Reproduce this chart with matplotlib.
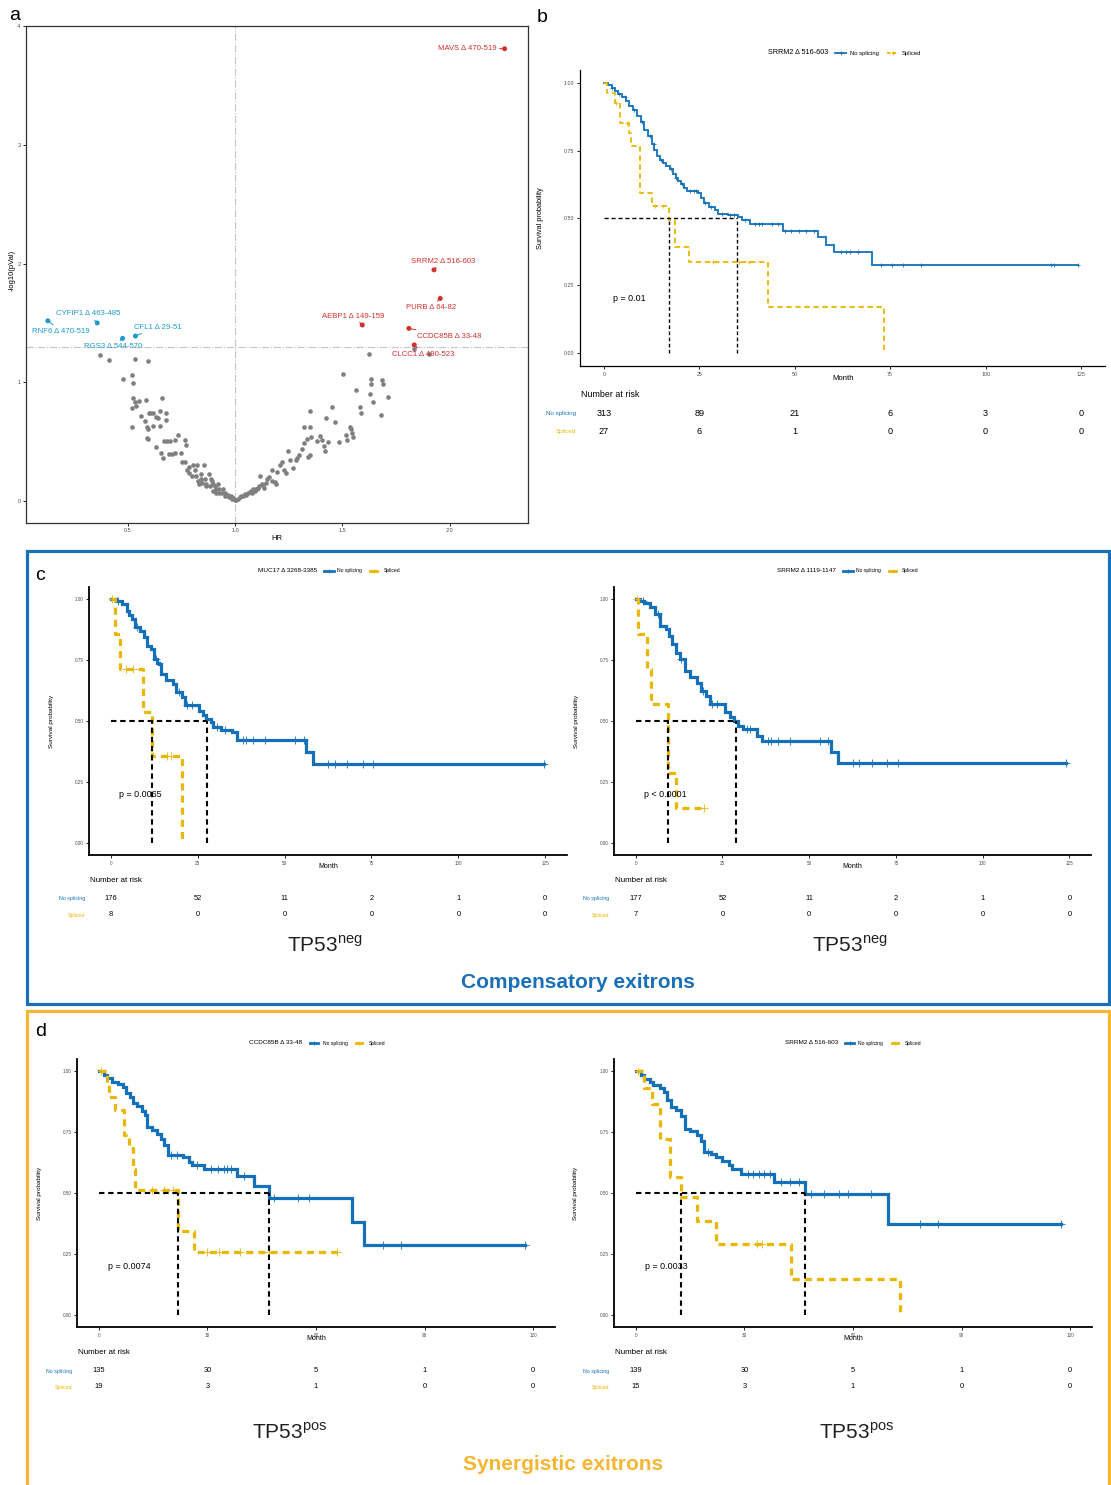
"""
Exitron survival figure.

  a  volcano: HR vs -log10(p) per exitron, hits labelled
  b  KM for SRRM2 exitron, whole cohort
  c  KM in TP53neg (compensatory exitrons)
  d  KM in TP53pos (synergistic exitrons)

Output: out.png
"""
import numpy as np
import matplotlib
matplotlib.use("Agg")
import matplotlib.pyplot as plt
import matplotlib.transforms as mtransforms
from matplotlib.lines import Line2D
from matplotlib.patches import Rectangle

plt.rcParams["font.family"] = ["Liberation Sans", "DejaVu Sans"]
plt.rcParams["mathtext.fontset"] = "custom"
plt.rcParams["mathtext.rm"] = "Liberation Sans"

W, H = 1111, 1485
BLUE = "#1470b8"
GOLD = "#e9b600"
RED = "#d3302f"
CYAN = "#1c9ad0"
BOX_BLUE = "#1a6fb6"
BOX_GOLD = "#f6b533"

# ---------------- panel a: volcano ----------------
grey_hr = [0.370, 0.411, 0.533, 0.595, 0.478, 0.522, 0.525, 0.525, 0.535, 0.554, 0.585, 0.521,
           0.538, 0.661, 0.563, 0.579, 0.597, 0.606, 0.620, 0.630, 0.639, 0.652, 0.676, 0.679,
           0.522, 0.589, 0.595, 0.617, 0.652, 0.589, 0.595, 0.630, 0.655, 0.665, 0.671, 0.685,
           0.695, 0.718, 0.736, 0.766, 0.772, 0.690, 0.706, 0.720, 0.748, 0.755, 0.766, 0.774,
           0.785, 0.802, 0.785, 0.801, 0.813, 0.823, 0.856, 0.816, 0.826, 0.840, 0.843, 0.859,
           0.880, 0.867, 0.888, 0.892, 0.848, 0.896, 0.907, 0.919, 0.913, 0.927, 0.937, 0.943,
           0.951, 0.965, 0.979, 0.991, 0.998, 0.881, 0.866, 0.832, 0.911, 0.896, 0.951, 0.927,
           1.013, 1.024, 1.038, 1.051, 1.062, 1.073, 1.085, 1.098, 1.111, 1.104, 1.117, 1.125,
           1.136, 1.149, 1.160, 1.172, 1.184, 1.190, 1.171, 1.195, 1.209, 1.217, 1.228, 1.239,
           1.248, 1.256, 1.271, 1.283, 1.291, 1.299, 1.310, 1.320, 1.320, 1.334, 1.342, 1.351,
           1.351, 1.351, 1.354, 1.380, 1.394, 1.407, 1.415, 1.421, 1.426, 1.435, 1.454, 1.465,
           1.486, 1.505, 1.516, 1.522, 1.536, 1.540, 1.544, 1.549, 1.565, 1.584, 1.589, 1.623,
           1.631, 1.634, 1.634, 1.644, 1.679, 1.687, 1.691, 1.715, 1.835, 1.905,
           0.958, 0.972, 0.985, 1.005, 1.030, 1.045, 1.068, 1.080, 1.092, 1.105, 1.130, 1.142]
grey_logp = [1.232, 1.186, 1.200, 1.183, 1.032, 1.064, 0.997, 0.870, 0.832, 0.841, 0.855, 0.788,
             0.803, 0.867, 0.716, 0.675, 0.745, 0.739, 0.745, 0.710, 0.701, 0.759, 0.742, 0.684,
             0.623, 0.629, 0.609, 0.635, 0.632, 0.536, 0.522, 0.458, 0.409, 0.362, 0.507, 0.504,
             0.507, 0.513, 0.559, 0.513, 0.475, 0.397, 0.397, 0.406, 0.409, 0.333, 0.333, 0.264,
             0.290, 0.304, 0.235, 0.217, 0.261, 0.304, 0.304, 0.217, 0.171, 0.188, 0.229, 0.188,
             0.232, 0.125, 0.191, 0.174, 0.151, 0.145, 0.130, 0.145, 0.101, 0.101, 0.072, 0.101,
             0.072, 0.049, 0.043, 0.029, 0.014, 0.130, 0.145, 0.145, 0.072, 0.087, 0.043, 0.067,
             0.020, 0.035, 0.043, 0.055, 0.072, 0.087, 0.101, 0.107, 0.130, 0.101, 0.217, 0.145,
             0.116, 0.188, 0.203, 0.174, 0.159, 0.145, 0.267, 0.246, 0.304, 0.333, 0.261, 0.238,
             0.420, 0.348, 0.281, 0.348, 0.362, 0.391, 0.441, 0.623, 0.493, 0.528, 0.377, 0.386,
             0.623, 0.762, 0.542, 0.507, 0.551, 0.513, 0.464, 0.420, 0.701, 0.499, 0.791, 0.670,
             0.499, 1.075, 0.559, 0.513, 0.629, 0.612, 0.571, 0.542, 0.939, 0.794, 0.745, 1.241,
             0.904, 0.986, 1.029, 0.835, 0.725, 1.017, 0.986, 0.875, 1.284, 1.243,
             0.050, 0.035, 0.020, 0.010, 0.045, 0.060, 0.080, 0.070, 0.090, 0.115, 0.140, 0.155]

hit_labels = ["MAVS \u0394 470-519", "SRRM2 \u0394 516-603", "PURB \u0394 64-82",
              "AEBP1 \u0394 149-159", "CCDC85B \u0394 33-48", "CLCC1 \u0394 490-523",
              "CYFIP1 \u0394 463-485", "RNF6 \u0394 470-519", "CFL1 \u0394 29-51",
              "RGS3 \u0394 544-570"]
hit_hr = [2.256, 1.927, 1.956, 1.593, 1.810, 1.835, 0.358, 0.128, 0.536, 0.476]
hit_logp = [3.809, 1.948, 1.707, 1.484, 1.455, 1.316, 1.501, 1.519, 1.391, 1.371]
hit_worse = [True, True, True, True, True, True, False, False, False, False]

# ---------------- KM data (time in months, survival after each step) ----------------
# b: SRRM2 exitron, all patients
b_ns_t = [0, 1.0, 2.0, 2.8, 3.8, 4.7, 5.7, 6.7, 7.6, 8.6, 9.6, 10.6, 11.5, 12.5, 13.2, 13.9,
          14.6, 15.4, 16.3, 17.3, 18.0, 18.8, 19.5, 20.2, 21.0, 21.7, 24.6, 25.5, 26.2, 27.5,
          29.0, 30.0, 32.5, 35.0, 36.3, 38.4, 46.9, 56.1, 58.3, 60.4, 70.1]
b_ns_s = [1.0, 0.993, 0.982, 0.973, 0.962, 0.950, 0.935, 0.918, 0.900, 0.880, 0.856, 0.828,
          0.806, 0.775, 0.752, 0.730, 0.715, 0.703, 0.694, 0.682, 0.665, 0.650, 0.638, 0.625,
          0.612, 0.602, 0.593, 0.575, 0.556, 0.542, 0.528, 0.516, 0.510, 0.502, 0.492, 0.476,
          0.453, 0.428, 0.400, 0.373, 0.325]
b_ns_end = 124.3
b_ns_cens = [2, 4, 5.5, 8, 10, 12, 13, 15, 17.5, 19, 20.5, 22.5, 23.5, 24, 26.5, 28, 31, 33,
             34, 37, 39.5, 40.5, 41.5, 44, 45.5, 47.5, 49, 51, 53, 55, 62, 63.5, 64.5, 66.5,
             72.5, 75.5, 78.3, 83, 117, 118, 124.3]
b_sp_t = [0, 0.8, 2.8, 4.3, 6.5, 7.2, 9.5, 12.6, 17.0, 18.6, 22.4, 43.0, 73.3]
b_sp_s = [1.0, 0.963, 0.926, 0.852, 0.815, 0.766, 0.593, 0.546, 0.494, 0.393, 0.336, 0.168, 0.0]
b_sp_end = 73.3
b_sp_cens = [3.2, 6.0, 13.5, 15.5, 28.5, 35.5, 38.0]
b_medians = [17.0, 34.8]
b_risk_t = [0, 25, 50, 75, 100, 125]
b_risk_ns = [313, 89, 21, 6, 3, 0]
b_risk_sp = [27, 6, 1, 0, 0, 0]

# c-left: MUC17 exitron, TP53neg
cl_ns_t = [0, 1.6, 3.1, 4.6, 5.3, 6.0, 7.0, 8.5, 9.5, 10.5, 11.5, 12.5, 13.3, 14.0, 14.5, 16.0,
           17.9, 18.9, 20.4, 21.4, 25.4, 26.4, 27.4, 28.8, 29.3, 31.8, 34.8, 36.3, 56.1, 58.3]
cl_ns_s = [1.0, 0.993, 0.980, 0.953, 0.935, 0.918, 0.884, 0.870, 0.843, 0.809, 0.795, 0.754,
           0.740, 0.734, 0.693, 0.667, 0.653, 0.620, 0.597, 0.567, 0.540, 0.525, 0.510, 0.497,
           0.475, 0.465, 0.456, 0.420, 0.374, 0.325]
cl_ns_end = 124.5
cl_ns_cens = [2, 7.5, 13, 19.5, 22, 23.5, 30.5, 33, 38, 39, 41, 44.5, 53, 55.5, 62.5, 64.5,
              68, 72.5, 75.5, 124.5]
cl_sp_t = [0, 1.1, 2.6, 9.2, 11.8, 20.4]
cl_sp_s = [1.0, 0.857, 0.714, 0.536, 0.357, 0.0]
cl_sp_end = 20.4
cl_sp_cens = [0.5, 4.5, 6.5, 16.2, 17.3]
cl_medians = [11.8, 27.7]
c_risk_t = [0, 25, 50, 75, 100, 125]
cl_risk_ns = [176, 52, 11, 2, 1, 0]
cl_risk_sp = [8, 0, 0, 0, 0, 0]

# c-right: SRRM2 1119-1147 exitron, TP53neg
cr_ns_t = [0, 1.2, 2.5, 4.0, 5.6, 7.1, 8.6, 9.6, 10.6, 11.6, 12.7, 14.2, 15.7, 17.7, 18.7,
           20.2, 21.3, 25.8, 27.3, 28.3, 29.4, 30.9, 34.9, 36.4, 56.2, 58.2]
cr_ns_s = [1.0, 0.993, 0.986, 0.966, 0.939, 0.891, 0.877, 0.850, 0.816, 0.781, 0.754, 0.706,
           0.679, 0.658, 0.624, 0.604, 0.570, 0.536, 0.515, 0.501, 0.481, 0.467, 0.440, 0.419,
           0.372, 0.326]
cr_ns_end = 124.0
cr_ns_cens = [2, 6.5, 13, 19.5, 22, 23.5, 32, 33, 38, 39, 41, 44.5, 53, 55.5, 62.5, 64.5,
              68, 72.5, 75.5, 124.0]
cr_sp_t = [0, 0.7, 3.3, 4.3, 9.3, 11.5]
cr_sp_s = [1.0, 0.857, 0.714, 0.571, 0.286, 0.143]
cr_sp_end = 19.7
cr_sp_cens = [0.4, 19.7]
cr_medians = [9.3, 29.0]
cr_risk_ns = [177, 52, 11, 2, 1, 0]
cr_risk_sp = [7, 0, 0, 0, 0, 0]

# d-left: CCDC85B exitron, TP53pos
dl_ns_t = [0, 1.4, 2.4, 3.8, 5.2, 6.7, 7.6, 8.6, 9.5, 10.5, 11.9, 12.9, 13.3, 14.8, 16.2,
           17.1, 18.1, 19.0, 23.3, 24.8, 25.7, 29.0, 38.1, 42.9, 47.0, 70.0, 73.3]
dl_ns_s = [1.0, 0.986, 0.973, 0.955, 0.948, 0.934, 0.911, 0.893, 0.870, 0.857, 0.838, 0.820,
           0.770, 0.757, 0.743, 0.722, 0.695, 0.654, 0.647, 0.627, 0.616, 0.600, 0.568, 0.528,
           0.479, 0.383, 0.287]
dl_ns_end = 117.6
dl_ns_cens = [20, 21.5, 27, 31, 33, 34.5, 35.5, 36.5, 40, 48.5, 55, 58, 78.5, 83.5, 117.6]
dl_sp_t = [0, 2.4, 2.9, 4.5, 7.0, 8.3, 9.4, 9.9, 22.0, 26.4]
dl_sp_s = [1.0, 0.947, 0.895, 0.842, 0.737, 0.685, 0.600, 0.513, 0.342, 0.257]
dl_sp_end = 65.7
dl_sp_cens = [0.6, 14.8, 18.0, 20.4, 30.0, 33.3, 39.0, 47.0, 65.7]
dl_medians = [22.0, 47.0]
d_risk_t = [0, 30, 60, 90, 120]
dl_risk_ns = [135, 30, 5, 1, 0]
dl_risk_sp = [19, 3, 1, 0, 0]

# d-right: SRRM2 516-603 exitron, TP53pos
dr_ns_t = [0, 1.5, 2.4, 3.9, 4.8, 6.8, 7.8, 8.7, 9.7, 11.2, 12.6, 13.6, 15.0, 17.0, 17.9,
           18.9, 20.9, 22.3, 23.8, 25.7, 26.7, 29.1, 38.3, 46.8, 69.8]
dr_ns_s = [1.0, 0.986, 0.969, 0.955, 0.945, 0.932, 0.914, 0.880, 0.852, 0.839, 0.818, 0.763,
           0.753, 0.740, 0.715, 0.668, 0.661, 0.647, 0.633, 0.613, 0.599, 0.579, 0.546, 0.497,
           0.374]
dr_ns_end = 117.4
dr_ns_cens = [20, 31, 32.5, 34, 35.5, 37, 40, 42.5, 45, 48.5, 52, 56, 58.5, 65, 78.5, 83.5,
              117.4]
dr_sp_t = [0, 2.4, 4.6, 6.7, 9.4, 12.4, 17.0, 22.3, 43.0, 73.0]
dr_sp_s = [1.0, 0.933, 0.867, 0.722, 0.565, 0.483, 0.386, 0.289, 0.145, 0.0]
dr_sp_end = 73.0
dr_sp_cens = [0.5, 33.5, 35.0]
dr_medians = [12.4, 46.8]
dr_risk_ns = [139, 30, 5, 1, 0]
dr_risk_sp = [15, 3, 1, 0, 0]


fig = plt.figure(figsize=(W / 100, H / 100), dpi=100)


def fy(py):
    return 1 - py / H


def add_ax(x0, y0, x1, y1):
    return fig.add_axes([x0 / W, 1 - y1 / H, (x1 - x0) / W, (y1 - y0) / H])


# ===== a: volcano =====
ax = add_ax(26, 26, 528, 522.7)
ax.set_xlim(0.026, 2.365)
ax.set_ylim(-0.18, 4.0)
ax.axhline(-np.log10(0.05), color="#c4c4c4", lw=0.8, ls="-.", zorder=0)
ax.axvline(1.0, color="#c4c4c4", lw=0.8, ls="-.", zorder=0)
ax.scatter(grey_hr, grey_logp, s=11, color="#7f7f7f", lw=0, zorder=2)
cols = [RED if w else CYAN for w in hit_worse]
ax.scatter(hit_hr, hit_logp, s=13, color=cols, lw=0, zorder=3)
# label centres (repel-style placement)
label_pos = {"MAVS": (2.082, 3.81), "SRRM2": (1.968, 2.02), "PURB": (1.913, 1.632),
             "AEBP1": (1.551, 1.559), "CCDC85B": (1.997, 1.391), "CLCC1": (1.878, 1.238),
             "CYFIP1": (0.316, 1.577), "RNF6": (0.188, 1.432), "CFL1": (0.638, 1.464),
             "RGS3": (0.434, 1.299)}
for lab, x, y, c in zip(hit_labels, hit_hr, hit_logp, cols):
    tx, ty = label_pos[lab.split()[0]]
    ax.annotate(lab, xy=(x, y), xytext=(tx, ty), ha="center", va="center", fontsize=5.6,
                color=c, zorder=4,
                arrowprops=dict(arrowstyle="-", color=c, lw=0.7, shrinkA=0, shrinkB=1.5))
ax.set_xticks([0.5, 1.0, 1.5, 2.0])
ax.set_yticks([0, 1, 2, 3, 4])
ax.tick_params(length=2, width=0.6, labelsize=4, labelcolor="#4d4d4d", pad=2)
for s in ax.spines.values():
    s.set_linewidth(0.9)
    s.set_color("#333333")
fig.text(277 / W, fy(538), "HR", ha="center", va="center", fontsize=5.5)
fig.text(12 / W, fy(270), "-log10(pVal)", ha="center", va="center", rotation=90, fontsize=5.5)


# ===== KM helpers =====
def draw_km(box, xlim, xticks, curves, medians, lw, spine_lw, med_lw, ptext, tick_fs=3.8):
    ax = add_ax(*box)
    for t, s, t_end, cens, col, dash in curves:
        ax.step(list(t) + [t_end], list(s) + [s[-1]], where="post", color=col, lw=lw,
                ls=dash, zorder=3, solid_joinstyle="miter")
        idx = np.searchsorted(t, cens, side="right") - 1
        ax.plot(cens, np.array(s)[idx], "+", color=col, ms=lw * 2.2, mew=0.6, zorder=3)
    ax.plot([0, max(medians)], [0.5, 0.5], color="black", lw=med_lw, ls=(0, (2.6, 1.8)), zorder=4)
    for m in medians:
        ax.plot([m, m], [0, 0.5], color="black", lw=med_lw, ls=(0, (2.6, 1.8)), zorder=4)
    ax.text(2.5, 0.2, ptext, fontsize=6.4, va="center", ha="left", zorder=5)
    ax.set_xlim(*xlim)
    ax.set_ylim(-0.05, 1.05)
    ax.set_xticks(xticks)
    ax.set_yticks([0, 0.25, 0.5, 0.75, 1.0])
    ax.set_yticklabels(["0.00", "0.25", "0.50", "0.75", "1.00"])
    ax.spines[["top", "right"]].set_visible(False)
    for sp in ("left", "bottom"):
        ax.spines[sp].set_linewidth(spine_lw)
    ax.tick_params(length=2, width=0.6, labelsize=tick_fs, labelcolor="#4d4d4d", pad=2)
    return ax


def km_legend(title, y, title_end, keys, lw, fs_t, fs_l):
    fig.text(title_end / W, fy(y), title, ha="right", va="center", fontsize=fs_t)
    for (x0, x1, xl, lab, col, dash) in keys:
        fig.add_artist(Line2D([x0 / W, x1 / W], [fy(y)] * 2, color=col, lw=lw, ls=dash))
        fig.add_artist(Line2D([(x0 + x1) / 2 / W], [fy(y)], color=col, marker="+", ms=3, mew=0.6))
        fig.text(xl / W, fy(y), lab, ha="left", va="center", fontsize=fs_l)


def risk_table(ax, times, ns, sp, y_head, y_ns, y_sp, x_head, x_lab, fs_num, fs_head, fs_lab):
    tr = mtransforms.blended_transform_factory(ax.transData, fig.transFigure)
    fig.text(x_head / W, fy(y_head), "Number at risk", ha="left", va="center", fontsize=fs_head)
    for counts, y, lab, col in ((ns, y_ns, "No splicing", BLUE), (sp, y_sp, "Spliced", GOLD)):
        fig.text(x_lab / W, fy(y), lab, ha="right", va="center", fontsize=fs_lab, color=col)
        for t, n in zip(times, counts):
            ax.text(t, fy(y), str(n), transform=tr, ha="center", va="center", fontsize=fs_num)


# ===== b =====
ax = draw_km((580, 70, 1105, 366), (-6.25, 131.25), b_risk_t,
             [(b_ns_t, b_ns_s, b_ns_end, b_ns_cens, BLUE, "-"),
              (b_sp_t, b_sp_s, b_sp_end, b_sp_cens, GOLD, (0, (3, 2)))],
             b_medians, lw=1.3, spine_lw=0.9, med_lw=1.0, ptext="p = 0.01")
ax.lines[-3].set_linestyle((0, (3, 2)))
km_legend("SRRM2 \u0394 516-603", 53, 828,
          [(835, 846, 850, "No splicing", BLUE, "-"), (887, 898, 902, "Spliced", GOLD, (0, (2, 1)))],
          1.3, 5.2, 4.2)
fig.text(843 / W, fy(379), "Month", ha="center", va="center", fontsize=5.6)
fig.text(540 / W, fy(218), "Survival probability", ha="center", va="center", rotation=90, fontsize=5.3)
risk_table(ax, b_risk_t, b_risk_ns, b_risk_sp, 394, 413, 432, 581, 576, 6.6, 6.4, 4.4)

# ===== c =====
dash_c = (0, (2.2, 1.6))
for (x0, x1, curves, med, ptext, ttl, tend, keys, ylx, num, risk_ns, risk_sp) in (
        (89, 567, [(cl_ns_t, cl_ns_s, cl_ns_end, cl_ns_cens, BLUE, "-"),
                   (cl_sp_t, cl_sp_s, cl_sp_end, cl_sp_cens, GOLD, dash_c)],
         cl_medians, "p = 0.0065", "MUC17 \u0394 3268-3385", 317,
         [(324, 334, 337, "No splicing"), (370, 377, 384, "Spliced")], 52, 85,
         cl_risk_ns, cl_risk_sp),
        (614, 1091, [(cr_ns_t, cr_ns_s, cr_ns_end, cr_ns_cens, BLUE, "-"),
                     (cr_sp_t, cr_sp_s, cr_sp_end, cr_sp_cens, GOLD, dash_c)],
         cr_medians, "p < 0.0001", "SRRM2 \u0394 1119-1147", 836,
         [(843, 853, 856, "No splicing"), (889, 896, 902, "Spliced")], 577, 609,
         cr_risk_ns, cr_risk_sp)):
    ax = draw_km((x0, 587, x1, 855), (-6.25, 131.25), c_risk_t, curves, med,
                 lw=2.3, spine_lw=1.3, med_lw=1.5, ptext=ptext, tick_fs=3.3)
    km_legend(ttl, 571, tend,
              [(keys[0][0], keys[0][1], keys[0][2], keys[0][3], BLUE, "-"),
               (keys[1][0], keys[1][1], keys[1][2], keys[1][3], GOLD, "-")],
              2.0, 4.6, 3.6)
    xc = (x0 + 22 + x1 - 22) / 2
    fig.text(xc / W, fy(867), "Month", ha="center", va="center", fontsize=5.0)
    fig.text(ylx / W, fy(721), "Survival probability", ha="center", va="center",
             rotation=90, fontsize=4.6)
    risk_table(ax, c_risk_t, risk_ns, risk_sp, 881, 898, 915, x0 + 1, num, 5.4, 5.8, 3.8)
    fig.text((xc - 3) / W, fy(945), r"TP53$^{\mathregular{neg}}$", ha="center", va="center",
             fontsize=15, color="#231f20")

# ===== d =====
for (x0, x1, curves, med, ptext, ttl, tend, keys, ylx, num, risk_ns, risk_sp, tp_x) in (
        (77, 555, [(dl_ns_t, dl_ns_s, dl_ns_end, dl_ns_cens, BLUE, "-"),
                   (dl_sp_t, dl_sp_s, dl_sp_end, dl_sp_cens, GOLD, dash_c)],
         dl_medians, "p = 0.0074", "CCDC85B \u0394 33-48", 302,
         [(310, 318, 323, "No splicing"), (356, 362, 369, "Spliced")], 40, 72,
         dl_risk_ns, dl_risk_sp, 290),
        (614, 1092, [(dr_ns_t, dr_ns_s, dr_ns_end, dr_ns_cens, BLUE, "-"),
                     (dr_sp_t, dr_sp_s, dr_sp_end, dr_sp_cens, GOLD, dash_c)],
         dr_medians, "p = 0.0033", "SRRM2 \u0394 516-603", 838,
         [(845, 854, 858, "No splicing"), (892, 898, 905, "Spliced")], 576, 609,
         dr_risk_ns, dr_risk_sp, 857)):
    ax = draw_km((x0, 1059, x1, 1327), (-6, 126), d_risk_t, curves, med,
                 lw=2.3, spine_lw=1.3, med_lw=1.5, ptext=ptext, tick_fs=3.3)
    km_legend(ttl, 1043, tend,
              [(keys[0][0], keys[0][1], keys[0][2], keys[0][3], BLUE, "-"),
               (keys[1][0], keys[1][1], keys[1][2], keys[1][3], GOLD, "-")],
              2.0, 4.6, 3.6)
    xc = (x0 + 22 + x1 - 22) / 2
    fig.text(xc / W, fy(1339), "Month", ha="center", va="center", fontsize=5.0)
    fig.text(ylx / W, fy(1193), "Survival probability", ha="center", va="center",
             rotation=90, fontsize=4.6)
    risk_table(ax, d_risk_t, risk_ns, risk_sp, 1353, 1371, 1387, x0 + 1, num, 5.4, 5.8, 3.8)
    fig.text(tp_x / W, fy(1432), r"TP53$^{\mathregular{pos}}$", ha="center", va="center",
             fontsize=15, color="#231f20")

# ===== frames, group titles, panel letters =====
fig.add_artist(Rectangle((27 / W, fy(1004)), (1109 - 27) / W, (1004 - 551) / H, fill=False,
                         ec=BOX_BLUE, lw=2.3, transform=fig.transFigure))
fig.add_artist(Rectangle((27 / W, fy(1500)), (1109 - 27) / W, (1500 - 1011) / H, fill=False,
                         ec=BOX_GOLD, lw=2.3, transform=fig.transFigure))
fig.text(578 / W, fy(982), "Compensatory exitrons", ha="center", va="center", fontsize=15,
         fontweight="bold", color=BOX_BLUE)
fig.text(563 / W, fy(1464), "Synergistic exitrons", ha="center", va="center", fontsize=15,
         fontweight="bold", color=BOX_GOLD)
for lab, x, y in (("a", 15, 15), ("b", 542, 17), ("c", 40, 575), ("d", 41, 1031)):
    fig.text(x / W, fy(y), lab, ha="center", va="center", fontsize=14)

fig.savefig("out.png", dpi=100)
